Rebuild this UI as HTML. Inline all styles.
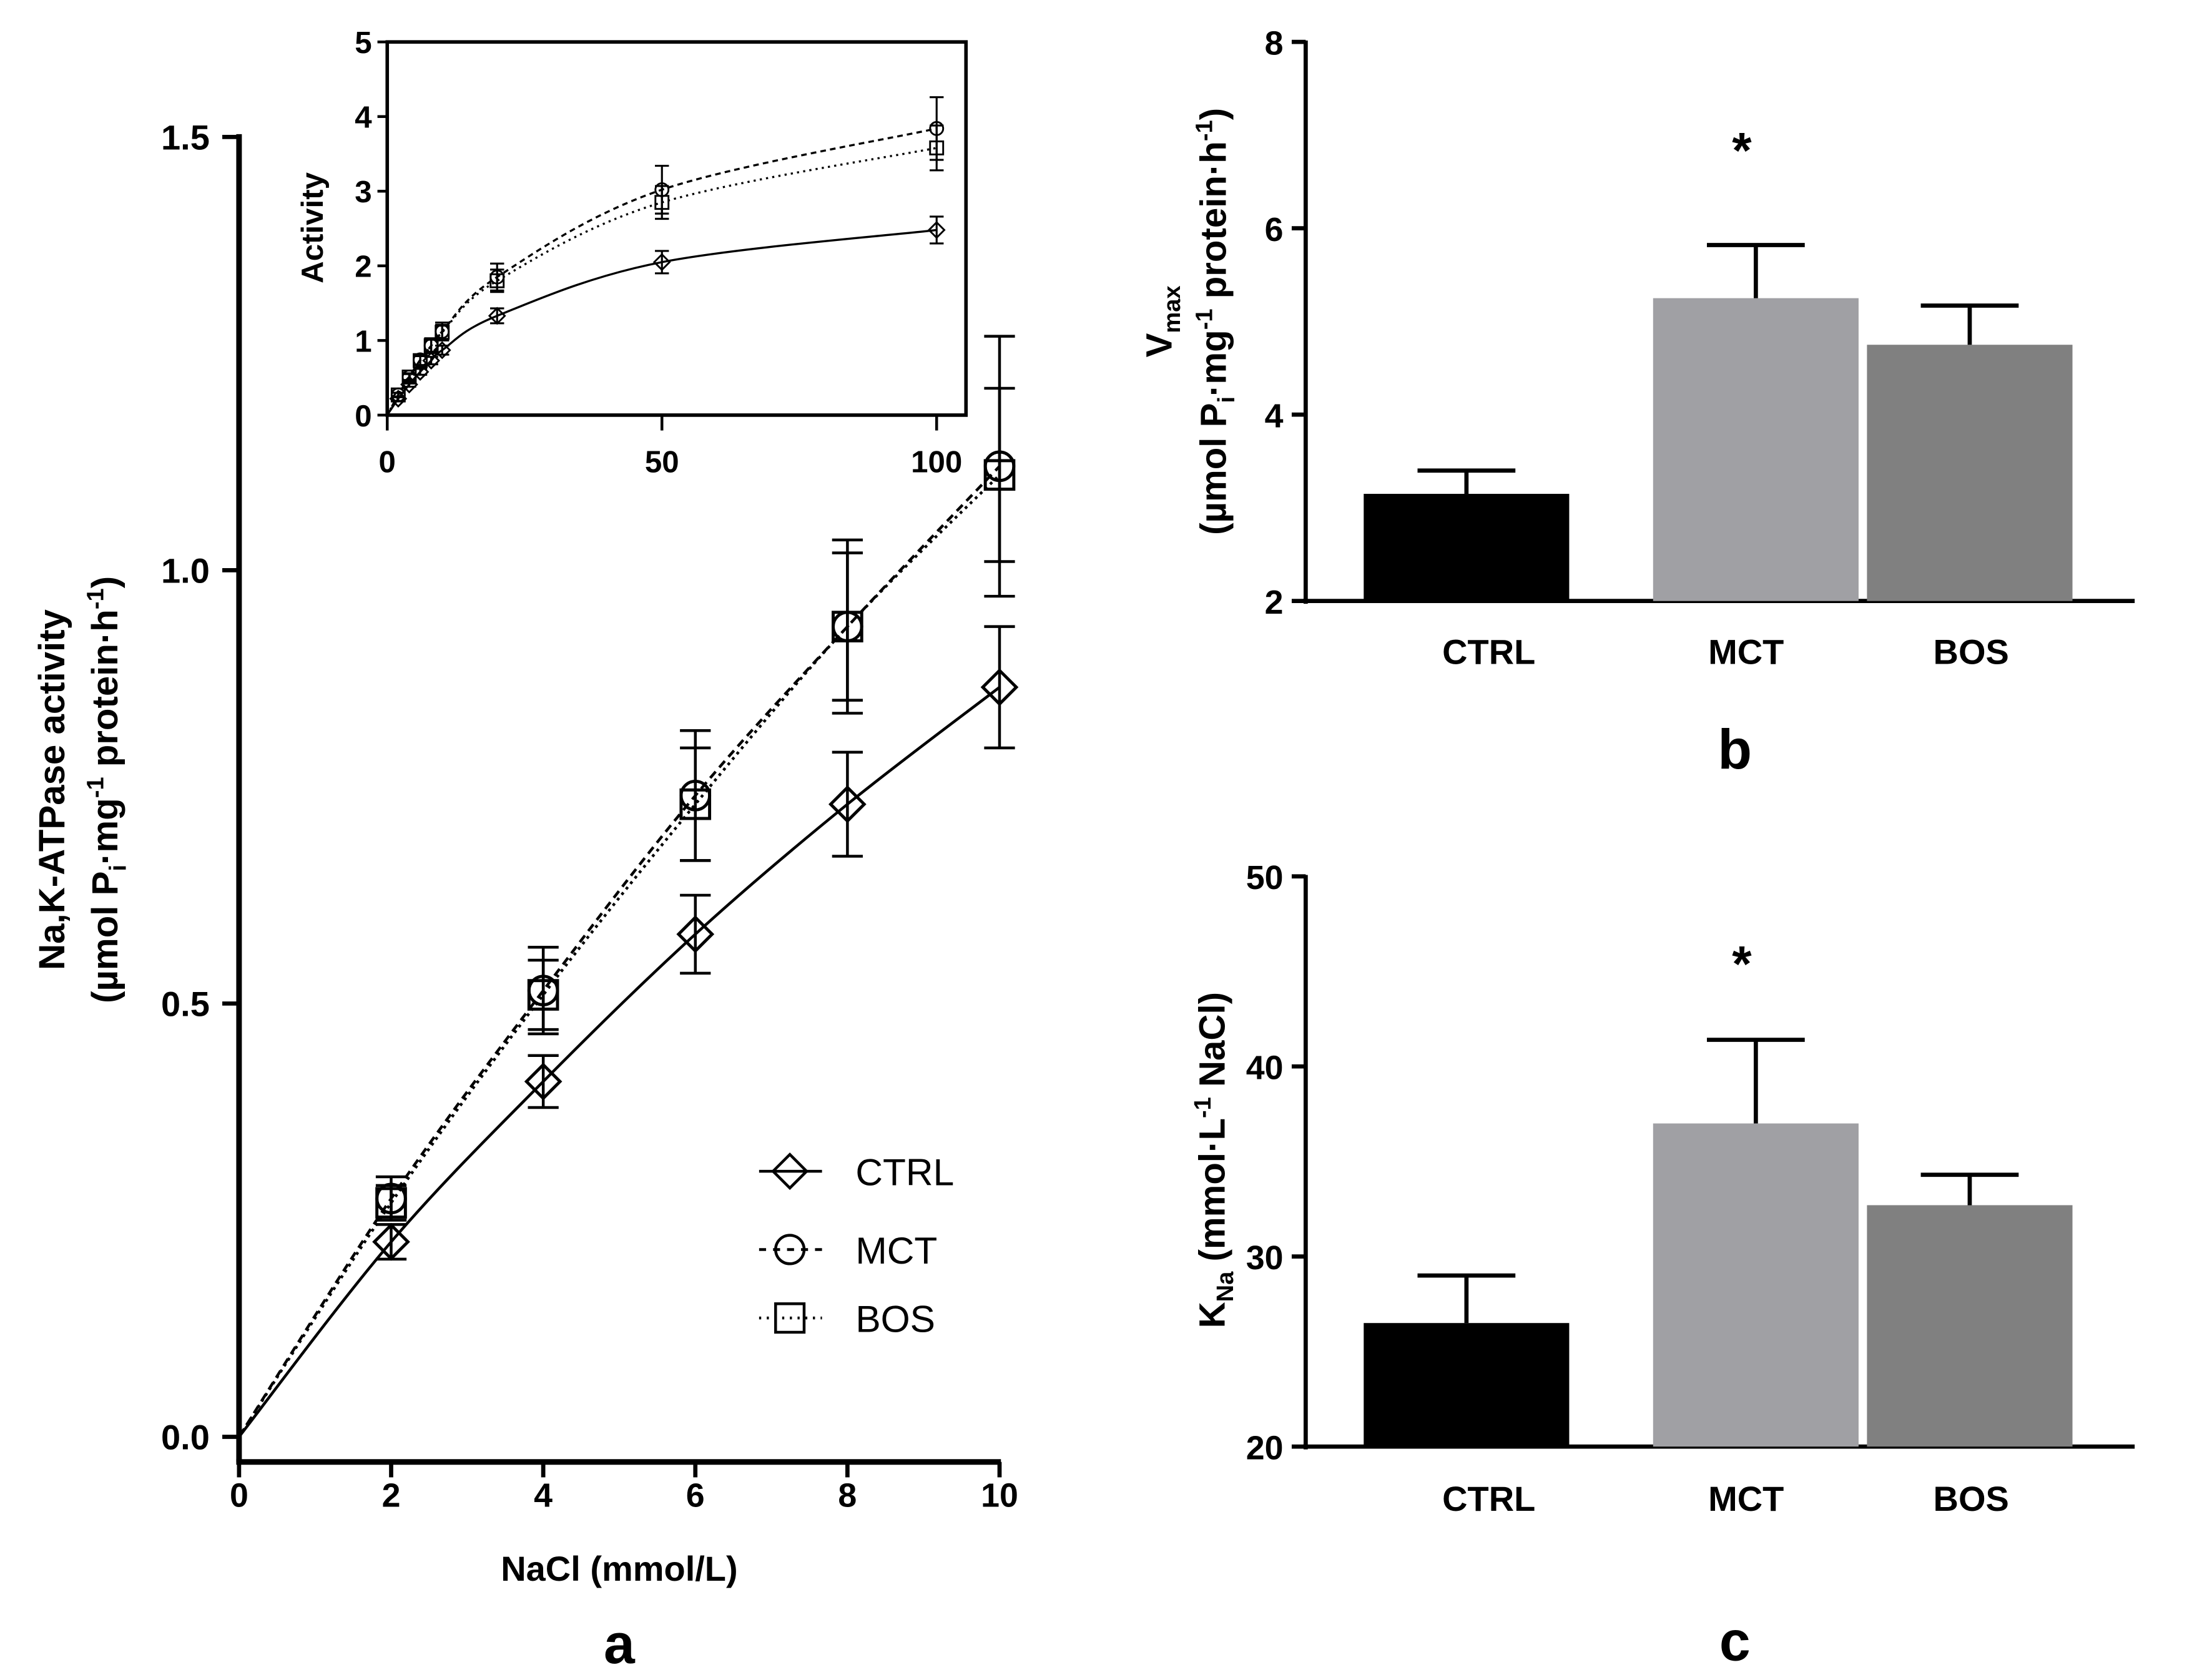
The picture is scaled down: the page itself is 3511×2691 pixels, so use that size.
<!DOCTYPE html>
<html><head><meta charset="utf-8"><style>
html,body{margin:0;padding:0;background:#fff}
svg{display:block}
text{font-family:"Liberation Sans",Arial,sans-serif;fill:#000}
.b{font-weight:bold}
</style></head><body>
<svg id="fig" width="3511" height="2691" viewBox="0 0 1568 1202" preserveAspectRatio="none" xmlns="http://www.w3.org/2000/svg">
<g id="pa"></g>
<g id="pi"></g>
<g id="pb"></g>
<g id="pc"></g>
</svg>
<script>
// ---- Panel a data ----
const aX = [2, 4, 6, 8, 10];
const aCtrl = [0.225, 0.41, 0.58, 0.73, 0.865];
const aCtrlErr = [0.02, 0.03, 0.045, 0.06, 0.07];
const aMct = [0.275, 0.515, 0.74, 0.935, 1.12];
const aMctErr = [0.025, 0.05, 0.075, 0.1, 0.15];
const aBos = [0.27, 0.51, 0.73, 0.935, 1.11];
const aBosErr = [0.02, 0.04, 0.065, 0.085, 0.1];
const aXTicks = [0, 2, 4, 6, 8, 10];
const aYTicks = [0.0, 0.5, 1.0, 1.5];
// ---- Inset data ----
const iX = [2, 4, 6, 8, 10, 20, 50, 100];
const iCtrl = [0.22, 0.41, 0.58, 0.73, 0.87, 1.33, 2.05, 2.48];
const iCtrlErr = [0.03, 0.03, 0.04, 0.05, 0.06, 0.1, 0.15, 0.18];
const iMct = [0.27, 0.51, 0.74, 0.93, 1.12, 1.85, 3.02, 3.84];
const iMctErr = [0.03, 0.05, 0.07, 0.1, 0.12, 0.18, 0.32, 0.42];
const iBos = [0.27, 0.51, 0.73, 0.93, 1.11, 1.8, 2.85, 3.58];
const iBosErr = [0.03, 0.04, 0.06, 0.08, 0.1, 0.15, 0.22, 0.3];
const iXTicks = [0, 50, 100];
const iYTicks = [0, 1, 2, 3, 4, 5];
// ---- Panel b / c data ----
const groups = ['CTRL', 'MCT', 'BOS'];
const vmax = [3.15, 5.25, 4.75];
const vmaxErr = [0.25, 0.57, 0.42];
const bTicks = [2, 4, 6, 8];
const kna = [26.5, 37.0, 32.7];
const knaErr = [2.5, 4.4, 1.6];
const cTicks = [20, 30, 40, 50];
const barColors = ['#000000', '#a0a0a4', '#808080'];

const NS = 'http://www.w3.org/2000/svg';
function mk(parent, tag, attrs, txt) {
  const e = document.createElementNS(NS, tag);
  for (const k in attrs) e.setAttribute(k, attrs[k]);
  if (txt !== undefined) e.textContent = txt;
  parent.appendChild(e);
  return e;
}
function spline(pts) {
  let d = 'M' + pts[0][0] + ',' + pts[0][1];
  for (let i = 0; i < pts.length - 1; i++) {
    const p0 = pts[Math.max(0, i - 1)], p1 = pts[i], p2 = pts[i + 1], p3 = pts[Math.min(pts.length - 1, i + 2)];
    const c1 = [p1[0] + (p2[0] - p0[0]) / 6, p1[1] + (p2[1] - p0[1]) / 6];
    const c2 = [p2[0] - (p3[0] - p1[0]) / 6, p2[1] - (p3[1] - p1[1]) / 6];
    d += ' C' + c1 + ' ' + c2 + ' ' + p2;
  }
  return d;
}
function marker(g, kind, x, y, r, sw) {
  let e;
  if (kind === 'd') e = mk(g, 'polygon', {points: `${x},${y-r} ${x+r},${y} ${x},${y+r} ${x-r},${y}`, fill: 'none', stroke: '#000', 'stroke-width': sw});
  else if (kind === 'c') e = mk(g, 'circle', {cx: x, cy: y, r: r * 0.85, fill: 'none', stroke: '#000', 'stroke-width': sw});
  else e = mk(g, 'rect', {x: x - r * 0.85, y: y - r * 0.85, width: r * 1.7, height: r * 1.7, fill: 'none', stroke: '#000', 'stroke-width': sw});
  return e;
}

// ===== Panel a =====
(function () {
  const g = document.getElementById('pa');
  const X = v => 171 + v / 10 * 544;
  const Y = v => 1028 - v / 1.5 * 930;
  const ya = mk(g, 'line', {x1: 171, y1: 96, x2: 171, y2: 1046, stroke: '#000', 'stroke-width': 4});
   
  const xa = mk(g, 'line', {x1: 169, y1: 1046, x2: 716, y2: 1046, stroke: '#000', 'stroke-width': 4});
   
  aYTicks.forEach(t => {
    mk(g, 'line', {x1: 159, y1: Y(t), x2: 171, y2: Y(t), stroke: '#000', 'stroke-width': 3});
    const l = mk(g, 'text', {x: 150, y: Y(t) + 9, 'text-anchor': 'end', 'font-size': 25, class: 'b'}, t.toFixed(1));
     
  });
  aXTicks.forEach(t => {
    mk(g, 'line', {x1: X(t), y1: 1046, x2: X(t), y2: 1057, stroke: '#000', 'stroke-width': 3});
    const l = mk(g, 'text', {x: X(t), y: 1078, 'text-anchor': 'middle', 'font-size': 24, class: 'b'}, t);
     
  });
  const xt = mk(g, 'text', {x: 443, y: 1131, 'text-anchor': 'middle', 'font-size': 25, class: 'b'}, 'NaCl (mmol/L)');
   
  const yt = mk(g, 'text', {transform: 'translate(46,565) rotate(-90)', 'text-anchor': 'middle', 'font-size': 26, class: 'b'}, 'Na,K-ATPase activity');
   
  const yt2 = mk(g, 'text', {transform: 'translate(84,565) rotate(-90)', 'text-anchor': 'middle', 'font-size': 26, class: 'b'});
  yt2.innerHTML = '(µmol P<tspan dy="6" font-size="17">i</tspan><tspan dy="-6">·mg</tspan><tspan dy="-10" font-size="17">-1</tspan><tspan dy="10"> protein·h</tspan><tspan dy="-10" font-size="17">-1</tspan><tspan dy="10">)</tspan>';
   
  const lab = mk(g, 'text', {x: 443, y: 1190, 'text-anchor': 'middle', 'font-size': 40, class: 'b'}, 'a');
   

  const series = [
    {name: 'ctrl', v: aCtrl, e: aCtrlErr, m: 'd', dash: ''},
    {name: 'mct', v: aMct, e: aMctErr, m: 'c', dash: '6,4'},
    {name: 'bos', v: aBos, e: aBosErr, m: 's', dash: '2,3'}
  ];
  series.forEach(s => {
    const sg = mk(g, 'g', {});
     
    const pts = [[X(0), Y(0)]].concat(aX.map((x, i) => [X(x), Y(s.v[i])]));
    const ln = mk(sg, 'path', {d: spline(pts), fill: 'none', stroke: '#000', 'stroke-width': 2, 'stroke-dasharray': s.dash});
     
    aX.forEach((x, i) => {
      const cx = X(x), y1 = Y(s.v[i] + s.e[i]), y2 = Y(s.v[i] - s.e[i]);
      mk(sg, 'path', {d: `M${cx},${y1}V${y2}M${cx-11},${y1}H${cx+11}M${cx-11},${y2}H${cx+11}`, stroke: '#000', 'stroke-width': 2, fill: 'none'});
      const m = marker(sg, s.m, cx, Y(s.v[i]), 12, 2.2);
       
    });
  });
  const lg = mk(g, 'g', {});
   
  const ents = [['CTRL', 'd', '', 838], ['MCT', 'c', '5,5', 894], ['BOS', 's', '1.5,4', 943]];
  ents.forEach(en => {
    const eg = mk(lg, 'g', {});
     
    mk(eg, 'line', {x1: 543, y1: en[3], x2: 588, y2: en[3], stroke: '#000', 'stroke-width': 2, 'stroke-dasharray': en[2]});
    marker(eg, en[1], 565, en[3], 12, 2);
    mk(eg, 'text', {x: 612, y: en[3] + 10, 'font-size': 27}, en[0]);
  });
})();

// ===== Inset =====
(function () {
  const g = document.getElementById('pi');
  const X = v => 277 + v / 100 * 393;
  const Y = v => 297 - v / 5 * 267;
  const fr = mk(g, 'path', {d: 'M277,30 H691 V297 H277 Z', fill: '#fff', stroke: '#000', 'stroke-width': 2.5});
   
  iYTicks.forEach(t => {
    mk(g, 'line', {x1: 270, y1: Y(t), x2: 277, y2: Y(t), stroke: '#000', 'stroke-width': 2});
    const l = mk(g, 'text', {x: 266, y: Y(t) + 8, 'text-anchor': 'end', 'font-size': 22, class: 'b'}, t);
     
  });
  iXTicks.forEach(t => {
    mk(g, 'line', {x1: X(t), y1: 297, x2: X(t), y2: 308, stroke: '#000', 'stroke-width': 2});
    const l = mk(g, 'text', {x: X(t), y: 338, 'text-anchor': 'middle', 'font-size': 22, class: 'b'}, t);
     
  });
  const yt = mk(g, 'text', {transform: 'translate(231,163) rotate(-90)', 'text-anchor': 'middle', 'font-size': 22, class: 'b'}, 'Activity');
   
  const series = [
    {name: 'ctrl', v: iCtrl, e: iCtrlErr, m: 'd', dash: ''},
    {name: 'mct', v: iMct, e: iMctErr, m: 'c', dash: '4,3'},
    {name: 'bos', v: iBos, e: iBosErr, m: 's', dash: '1.5,3'}
  ];
  series.forEach(s => {
    const sg = mk(g, 'g', {});
     
    const pts = [[X(0), Y(0)]].concat(iX.map((x, i) => [X(x), Y(s.v[i])]));
    mk(sg, 'path', {d: spline(pts), fill: 'none', stroke: '#000', 'stroke-width': 1.5, 'stroke-dasharray': s.dash});
    iX.forEach((x, i) => {
      const cx = X(x), y1 = Y(s.v[i] + s.e[i]), y2 = Y(s.v[i] - s.e[i]);
      mk(sg, 'path', {d: `M${cx},${y1}V${y2}M${cx-5},${y1}H${cx+5}M${cx-5},${y2}H${cx+5}`, stroke: '#000', 'stroke-width': 1.4, fill: 'none'});
      const m = marker(sg, s.m, cx, Y(s.v[i]), 5.5, 1.3);
       
    });
  });
})();

// ===== Bar panels =====
function barPanel(id, vals, errs, ticks, y0px, y1px, prefix, labelY, panelLetter, letterY, starY) {
  const g = document.getElementById(id);
  const t0 = ticks[0], t1 = ticks[ticks.length - 1];
  const Y = v => y0px - (v - t0) / (t1 - t0) * (y0px - y1px);
  const centers = [1049, 1256, 1409];
  const labelX = [1065, 1249, 1410];
  const X = i => centers[i];
  const bw = 147;
  const ya = mk(g, 'line', {x1: 934, y1: y1px - 1, x2: 934, y2: y0px + 2, stroke: '#000', 'stroke-width': 3});
   
  const xa = mk(g, 'line', {x1: 932, y1: y0px, x2: 1527, y2: y0px, stroke: '#000', 'stroke-width': 3});
   
  ticks.forEach(t => {
    mk(g, 'line', {x1: 924, y1: Y(t), x2: 934, y2: Y(t), stroke: '#000', 'stroke-width': 3});
    const l = mk(g, 'text', {x: 918, y: Y(t) + 9, 'text-anchor': 'end', 'font-size': 24, class: 'b'}, t);
     
  });
  vals.forEach((v, i) => {
    const cx = X(i);
    const r = mk(g, 'rect', {x: cx - bw / 2, y: Y(v), width: bw, height: y0px - Y(v), fill: barColors[i]});
     
    const ye = Y(v + errs[i]);
    const eb = mk(g, 'path', {d: `M${cx},${Y(v)}V${ye}M${cx-35},${ye}H${cx+35}`, stroke: '#000', 'stroke-width': 3, fill: 'none'});
     
    const l = mk(g, 'text', {x: labelX[i], y: labelY, 'text-anchor': 'middle', 'font-size': 25, class: 'b'}, groups[i]);
     
  });
  const st = mk(g, 'text', {x: X(1) - 10, y: starY, 'text-anchor': 'middle', 'font-size': 36, class: 'b'}, '*');
   
  const pl = mk(g, 'text', {x: 1241, y: letterY, 'text-anchor': 'middle', 'font-size': 40, class: 'b'}, panelLetter);
   
  return g;
}
const gb = barPanel('pb', vmax, vmaxErr, bTicks, 430, 30, 'vmax', 475, 'b', 550, 120);
const gc = barPanel('pc', kna, knaErr, cTicks, 1035, 627, 'kna', 1081, 'c', 1188, 702);
(function () {
  const t1 = mk(gb, 'text', {transform: 'translate(838,230) rotate(-90)', 'text-anchor': 'middle', 'font-size': 26, class: 'b'});
  t1.innerHTML = 'V<tspan dy="6" font-size="17">max</tspan>';
   
  const t2 = mk(gb, 'text', {transform: 'translate(877,230) rotate(-90)', 'text-anchor': 'middle', 'font-size': 26, class: 'b'});
  t2.innerHTML = '(µmol P<tspan dy="6" font-size="17">i</tspan><tspan dy="-6">·mg</tspan><tspan dy="-10" font-size="17">-1</tspan><tspan dy="10"> protein·h</tspan><tspan dy="-10" font-size="17">-1</tspan><tspan dy="10">)</tspan>';
   
  const t3 = mk(gc, 'text', {transform: 'translate(876,830) rotate(-90)', 'text-anchor': 'middle', 'font-size': 26, class: 'b'});
  t3.innerHTML = 'K<tspan dy="6" font-size="17">Na</tspan><tspan dy="-6"> (mmol·L</tspan><tspan dy="-10" font-size="17">-1</tspan><tspan dy="10"> NaCl)</tspan>';
   
})();
</script>
</body></html>
